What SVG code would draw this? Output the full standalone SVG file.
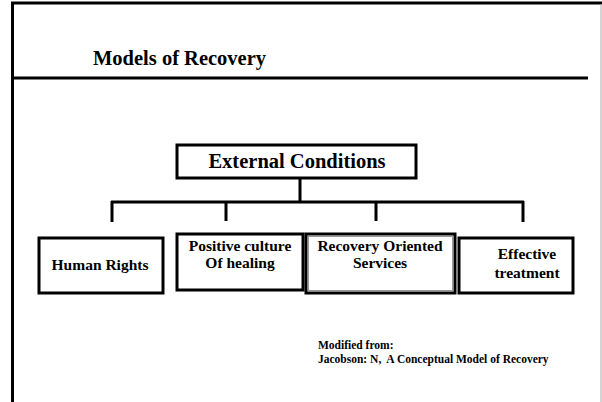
<svg xmlns="http://www.w3.org/2000/svg" width="602" height="402" viewBox="0 0 602 402">
<style>
text{font-family:"Liberation Serif","Times New Roman",serif;font-weight:bold;fill:#000}
.box{fill:#fff;stroke:#000;stroke-width:3}
.lbl{font-size:15.5px;text-anchor:middle}
.conn{stroke:#000;stroke-width:3;fill:none}
</style>
<rect x="0" y="0" width="602" height="402" fill="#fff"/>
<g id="frame">
<line x1="11" y1="3" x2="602" y2="3" stroke="#000" stroke-width="3"/>
<line x1="12.5" y1="2" x2="12.5" y2="402" stroke="#000" stroke-width="3"/>
<line x1="11" y1="78" x2="588" y2="78" stroke="#000" stroke-width="3"/>
<line x1="601" y1="4" x2="601" y2="402" stroke="#aaa" stroke-width="1"/>
</g>
<text id="title" x="93" y="65" font-size="20.5">Models of Recovery</text>
<g id="connectors">
<path class="conn" d="M300 178 V202 M111 202 H524 M112 201 V222 M226 201 V221 M376 201 V221 M523 201 V222"/>
</g>
<g id="external">
<rect class="box" x="177" y="145" width="239" height="33"/>
<text x="297" y="168" font-size="20.5" text-anchor="middle">External Conditions</text>
</g>
<g id="human-rights">
<rect class="box" x="39" y="238" width="124" height="55"/>
<text class="lbl" x="100" y="270">Human Rights</text>
</g>
<g id="positive-culture">
<rect class="box" x="177" y="234" width="126" height="56"/>
<text class="lbl" x="240" y="251">Positive culture</text>
<text class="lbl" x="240" y="268">Of healing</text>
</g>
<g id="recovery-services">
<rect class="box" x="306" y="234" width="149" height="59"/>
<rect x="308.5" y="236.5" width="144" height="54" fill="none" stroke="#999" stroke-width="1"/>
<text class="lbl" x="380" y="251">Recovery Oriented</text>
<text class="lbl" x="380" y="268">Services</text>
</g>
<g id="effective-treatment">
<rect class="box" x="459" y="238" width="114" height="55"/>
<text class="lbl" x="527" y="259">Effective</text>
<text class="lbl" x="527" y="278">treatment</text>
</g>
<g id="note">
<text x="318" y="349" font-size="11.5">Modified from:</text>
<text x="318" y="363" font-size="11.5" xml:space="preserve">Jacobson: N,  A Conceptual Model of Recovery</text>
</g>
</svg>
